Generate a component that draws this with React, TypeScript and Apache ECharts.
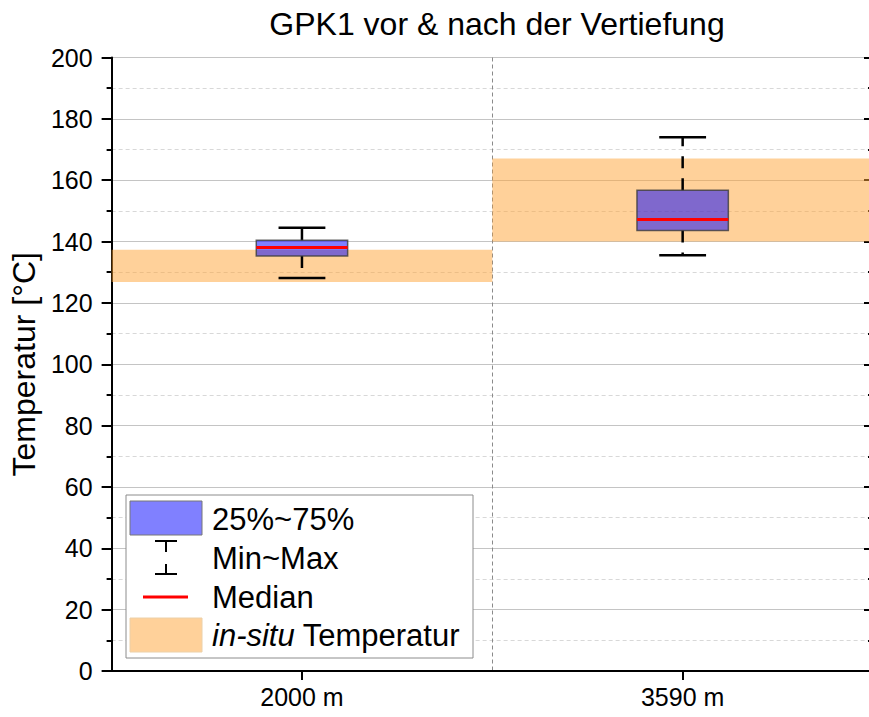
import React, { useEffect, useRef } from 'react';
import * as echarts from 'echarts';

const categories = ['2000 m', '3590 m'];
const minValues = [128.1, 135.5];
const q1Values = [135.3, 143.6];
const medianValues = [138.1, 147.2];
const q3Values = [140.4, 156.7];
const maxValues = [144.5, 174.0];
const bandLow = [126.8, 140.0];
const bandHigh = [137.3, 167.1];

const FONT = '"Liberation Sans", Arial, sans-serif';
const BAND_FILL = 'rgba(255,163,53,0.5)';
const BOX_FILL = 'rgba(0,0,255,0.5)';
const Z = 100;

export default function App() {
  const ref = useRef<HTMLDivElement>(null);
  useEffect(() => {
    const chart = echarts.init(ref.current!, null, { renderer: 'svg' });
    const bandData = categories.map((_, i) => [i, bandLow[i], bandHigh[i]]);
    const boxData = categories.map((_, i) => [i, minValues[i], q1Values[i], medianValues[i], q3Values[i], maxValues[i]]);
    const legendText = (text: string, y: number, rich?: any) => ({
      type: 'text',
      z: Z + 1,
      x: 212,
      y,
      style: { text, fontSize: 31, fontFamily: FONT, fill: '#000', verticalAlign: 'middle', rich },
    });
    const legendLine = (x1: number, y1: number, x2: number, y2: number, stroke = '#000', lineWidth = 2) => ({
      type: 'line',
      z: Z + 1,
      shape: { x1, y1, x2, y2 },
      style: { stroke, lineWidth },
    });
    const option: any = {
      animation: false,
      textStyle: { fontFamily: FONT },
      title: {
        text: 'GPK1 vor & nach der Vertiefung',
        left: 492,
        textAlign: 'center',
        top: 3,
        textStyle: { fontFamily: FONT, fontSize: 32, fontWeight: 'normal', color: '#000' },
      },
      grid: { left: 111, top: 57.5, right: 0, bottom: 46, containLabel: false },
      xAxis: [
        {
          type: 'category',
          data: categories,
          position: 'bottom',
          boundaryGap: true,
          axisLine: { lineStyle: { color: '#000', width: 2 } },
          axisTick: { show: true, alignWithLabel: true, length: 9, lineStyle: { color: '#000', width: 2 } },
          axisLabel: { color: '#000', fontSize: 25, fontFamily: FONT, margin: 13 },
          splitLine: { show: true, lineStyle: { color: '#8a8a8a', type: [4, 3], width: 1 } },
        },
        {
          type: 'category',
          data: categories,
          position: 'top',
          boundaryGap: true,
          axisLine: { lineStyle: { color: '#000', width: 2 } },
          axisTick: { show: true, inside: true, alignWithLabel: true, length: 9, lineStyle: { color: '#000', width: 2 } },
          axisLabel: { show: false },
          splitLine: { show: false },
        },
      ],
      yAxis: [
        {
          type: 'value',
          min: 0,
          max: 200,
          interval: 20,
          name: 'Temperatur [°C]',
          nameLocation: 'middle',
          nameGap: 68,
          nameTextStyle: { color: '#000', fontSize: 32, fontFamily: FONT },
          axisLine: { show: true, lineStyle: { color: '#000', width: 2 } },
          axisTick: { show: true, length: 10, lineStyle: { color: '#000', width: 2 } },
          minorTick: { show: true, splitNumber: 2, length: 5, lineStyle: { color: '#000', width: 2 } },
          axisLabel: { color: '#000', fontSize: 25, fontFamily: FONT, margin: 19 },
          splitLine: { show: true, lineStyle: { color: '#c4c4c4', width: 1 } },
          minorSplitLine: { show: true, lineStyle: { color: '#d8d8d8', width: 1, type: [4, 3] } },
        },
        {
          type: 'value',
          min: 0,
          max: 200,
          interval: 20,
          position: 'right',
          axisLine: { show: true, lineStyle: { color: '#000', width: 2 } },
          axisTick: { show: true, inside: true, length: 9, lineStyle: { color: '#000', width: 2 } },
          minorTick: { show: true, splitNumber: 2, length: 5, lineStyle: { color: '#000', width: 2 } },
          axisLabel: { show: false },
          splitLine: { show: false },
        },
      ],
      series: [
        {
          type: 'custom',
          name: 'in-situ Temperatur',
          xAxisIndex: 0,
          yAxisIndex: 0,
          data: bandData,
          encode: { x: 0, y: [1, 2] },
          z: 1,
          renderItem: (params: any, api: any) => {
            const x = api.coord([api.value(0), 0])[0];
            const w = api.size([1, 0])[0];
            const top = api.coord([api.value(0), api.value(2)])[1];
            const bot = api.coord([api.value(0), api.value(1)])[1];
            return {
              type: 'rect',
              shape: { x: x - w / 2, y: top, width: w, height: bot - top },
              style: { fill: BAND_FILL },
            };
          },
        },
        {
          type: 'custom',
          name: 'Box',
          xAxisIndex: 0,
          yAxisIndex: 0,
          data: boxData,
          encode: { x: 0, y: [1, 2, 3, 4, 5] },
          z: 3,
          renderItem: (params: any, api: any) => {
            const i = api.value(0);
            const x = api.coord([i, 0])[0];
            const w = api.size([1, 0])[0];
            const boxW = w * 0.24;
            const capW = w * 0.123;
            const yMin = api.coord([i, api.value(1)])[1];
            const yQ1 = api.coord([i, api.value(2)])[1];
            const yMed = api.coord([i, api.value(3)])[1];
            const yQ3 = api.coord([i, api.value(4)])[1];
            const yMax = api.coord([i, api.value(5)])[1];
            const whiskerStyle = { stroke: '#000', lineWidth: 2.5, lineDash: [12, 10] };
            const capStyle = { stroke: '#000', lineWidth: 2.5 };
            return {
              type: 'group',
              children: [
                { type: 'line', shape: { x1: x, y1: yQ3, x2: x, y2: yMax }, style: whiskerStyle },
                { type: 'line', shape: { x1: x, y1: yQ1, x2: x, y2: yMin }, style: whiskerStyle },
                { type: 'line', shape: { x1: x - capW / 2, y1: yMax, x2: x + capW / 2, y2: yMax }, style: capStyle },
                { type: 'line', shape: { x1: x - capW / 2, y1: yMin, x2: x + capW / 2, y2: yMin }, style: capStyle },
                {
                  type: 'rect',
                  shape: { x: x - boxW / 2, y: yQ3, width: boxW, height: yQ1 - yQ3 },
                  style: { fill: BOX_FILL, stroke: 'rgba(60,60,60,0.8)', lineWidth: 1.5 },
                },
                {
                  type: 'line',
                  shape: { x1: x - boxW / 2, y1: yMed, x2: x + boxW / 2, y2: yMed },
                  style: { stroke: '#ff0000', lineWidth: 3 },
                },
              ],
            };
          },
        },
      ],
      graphic: [
        {
          type: 'rect',
          z: Z,
          shape: { x: 126, y: 495, width: 347, height: 163 },
          style: { fill: '#fff', stroke: '#8c8c8c', lineWidth: 1 },
        },
        {
          type: 'rect',
          z: Z + 1,
          shape: { x: 130, y: 501, width: 72, height: 34 },
          style: { fill: '#8080ff', stroke: '#777', lineWidth: 1 },
        },
        legendText('25%~75%', 519),
        legendLine(155, 541, 177, 541),
        legendLine(166, 541, 166, 552),
        legendLine(166, 564, 166, 574),
        legendLine(155, 574, 177, 574),
        legendText('Min~Max', 558),
        legendLine(143, 597, 188, 597, '#ff0000', 3),
        legendText('Median', 597),
        {
          type: 'rect',
          z: Z + 1,
          shape: { x: 130, y: 618, width: 72, height: 34 },
          style: { fill: '#ffd19a', stroke: '#ecd0a8', lineWidth: 1 },
        },
        legendText('{i|in-situ} Temperatur', 635, {
          i: { fontStyle: 'italic', fontSize: 31, fontFamily: FONT, fill: '#000' },
        }),
      ],
    };
    chart.setOption(option);
    return () => chart.dispose();
  }, []);
  return (
    <div style={{ position: 'absolute', left: 0, top: 0, width: 869, height: 717, overflow: 'hidden', background: '#fff' }}>
      <div ref={ref} style={{ width: 873, height: 717 }} />
    </div>
  );
}
